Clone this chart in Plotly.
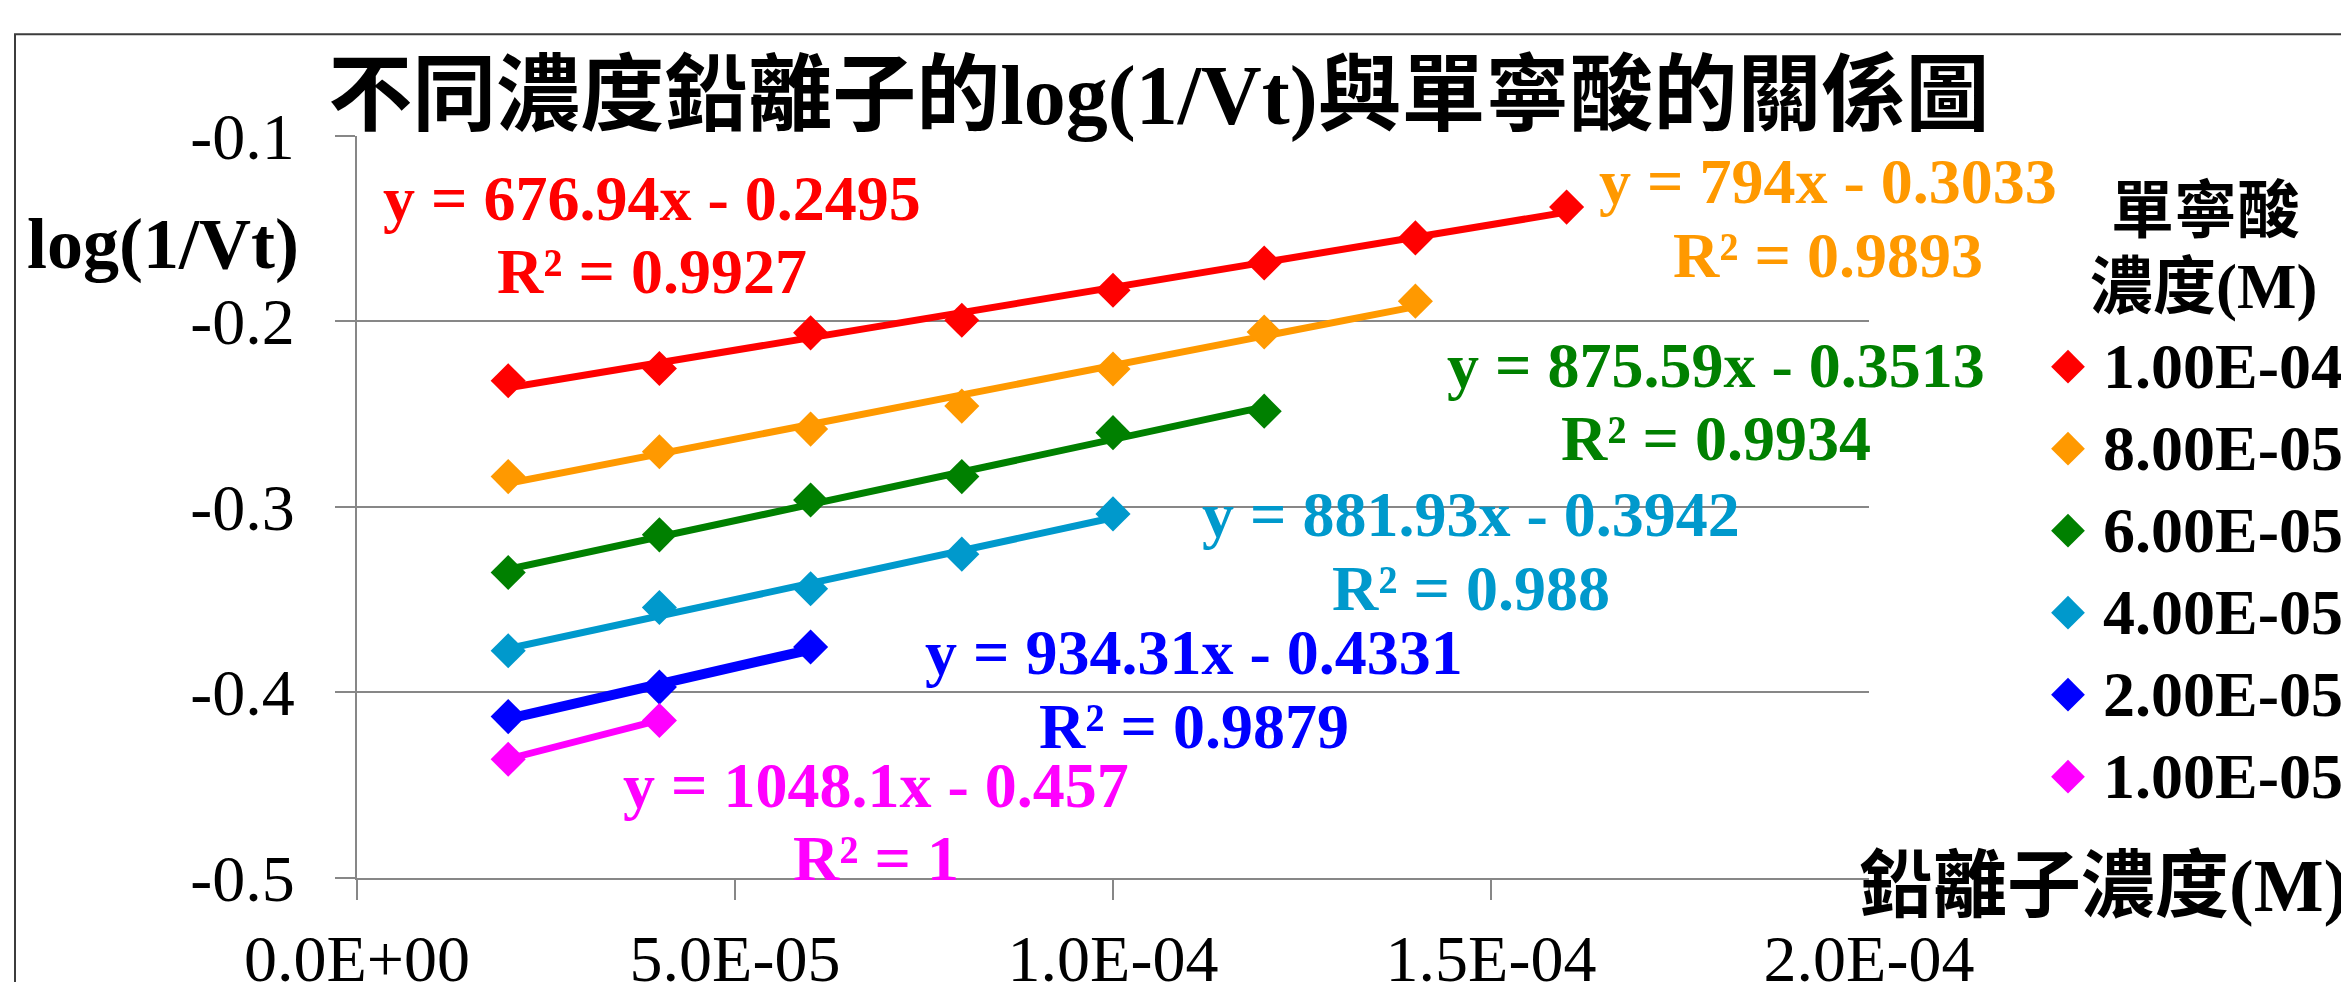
import plotly.graph_objects as go

W, H = 2341, 982

# 鉛離子濃度 (M) — shared x values
pb_conc = [2e-5, 4e-5, 6e-5, 8e-5, 1.0e-4, 1.2e-4, 1.4e-4, 1.6e-4]

# 單寧酸濃度 series (legend names) and colours
tannic_names = ["1.00E-04", "8.00E-05", "6.00E-05", "4.00E-05", "2.00E-05", "1.00E-05"]
tannic_colors = ["#FF0000", "#FF9900", "#008000", "#0099CC", "#0000FF", "#FF00FF"]

# log(1/Vt) measurements for each tannic-acid concentration
log_vt_1e4 = [-0.2321, -0.2255, -0.2063, -0.1995, -0.1833, -0.1686, -0.1551, -0.1385]
log_vt_8e5 = [-0.2838, -0.2704, -0.2582, -0.2458, -0.2258, -0.2058, -0.1892]
log_vt_6e5 = [-0.3355, -0.3152, -0.2964, -0.2838, -0.2601, -0.2485]
log_vt_4e5 = [-0.3777, -0.3544, -0.3443, -0.3256, -0.3039]
log_vt_2e5 = [-0.4132, -0.3973, -0.3757]
log_vt_1e5 = [-0.4362, -0.4153]
series_values = [log_vt_1e4, log_vt_8e5, log_vt_6e5, log_vt_4e5, log_vt_2e5, log_vt_1e5]

# linear trendline fits (y = a x + b) and R²
fit_slopes = [676.94, 794, 875.59, 881.93, 934.31, 1048.1]
fit_intercepts = [-0.2495, -0.3033, -0.3513, -0.3942, -0.4331, -0.457]
fit_r2 = ["0.9927", "0.9893", "0.9934", "0.988", "0.9879", "1"]

# axis ticks
x_tickvals = [0, 5e-5, 1e-4, 1.5e-4, 2e-4]
x_ticktext = ["0.0E+00", "5.0E-05", "1.0E-04", "1.5E-04", "2.0E-04"]
y_tickvals = [-0.5, -0.4, -0.3, -0.2, -0.1]
y_ticktext = ["-0.5", "-0.4", "-0.3", "-0.2", "-0.1"]

# ---- styling / layout helpers ----
FONT = "Liberation Serif, Noto Sans CJK TC"
GRID = "#878787"
line_widths = [7, 7, 7, 7, 10, 7]
# equation label placement: (centre x px, baseline px of line 1, baseline px of line 2)
eq_label_pos = [(652, 220, 293), (1828, 203, 277), (1716, 387, 460),
                (1471, 536, 610), (1194, 674, 748), (876, 807, 880)]


def fx(px):
    return px / W


def fy(py):
    return 1 - py / H


plot_x0, plot_x1 = 357, 1869
plot_y0, plot_y1 = 135.7, 877.6

fig = go.Figure()

for i, vals in enumerate(series_values):
    xs = pb_conc[:len(vals)]
    a, b = fit_slopes[i], fit_intercepts[i]
    fx_ends = [xs[0], xs[-1]]
    fig.add_trace(go.Scatter(
        x=fx_ends, y=[a * v + b for v in fx_ends], mode="lines",
        line=dict(color=tannic_colors[i], width=line_widths[i]),
        hoverinfo="skip", showlegend=False))
    fig.add_trace(go.Scatter(
        x=xs, y=vals, mode="markers", name=tannic_names[i],
        marker=dict(symbol="diamond", size=27, color=tannic_colors[i], line=dict(width=0)),
        showlegend=False))

# legend markers on a small auxiliary axis pair
legend_cx = 2068
fig.add_trace(go.Scatter(
    x=[0] * len(tannic_names), y=list(range(len(tannic_names))), mode="markers",
    marker=dict(symbol="diamond", size=26, color=tannic_colors, line=dict(width=0)),
    xaxis="x2", yaxis="y2", showlegend=False, hoverinfo="skip"))

annotations = []

# trendline equations
for i in range(len(fit_slopes)):
    cx, b1, b2 = eq_label_pos[i]
    eq = f"y = {fit_slopes[i]:g}x - {abs(fit_intercepts[i]):g}"
    r2 = f"R² = {fit_r2[i]}"
    for txt, base in ((eq, b1), (r2, b2)):
        annotations.append(dict(
            text=txt, x=fx(cx), y=fy(base - 0.3375 * 64), xref="paper", yref="paper",
            xanchor="center", yanchor="middle", showarrow=False,
            font=dict(family=FONT, size=64, color=tannic_colors[i], weight="bold")))

# legend labels
for i, name in enumerate(tannic_names):
    annotations.append(dict(
        text=name, x=0, y=i, xref="x2", yref="y2", xanchor="left", yanchor="middle",
        xshift=33, showarrow=False,
        font=dict(family=FONT, size=64, color="black", weight="bold")))

# legend title
annotations.append(dict(text="單寧酸", x=fx(2205), y=fy(211), xref="paper", yref="paper",
                        xanchor="center", yanchor="middle", showarrow=False,
                        font=dict(family=FONT, size=63, color="black", weight="bold")))
annotations.append(dict(text="濃度(M)", x=fx(2203), y=fy(287), xref="paper", yref="paper",
                        xanchor="center", yanchor="middle", showarrow=False,
                        font=dict(family=FONT, size=63, color="black", weight="bold")))

# axis titles
annotations.append(dict(text="log(1/Vt)", x=fx(163), y=fy(268 - 0.3375 * 72),
                        xref="paper", yref="paper", xanchor="center", yanchor="middle",
                        showarrow=False,
                        font=dict(family=FONT, size=72, color="black", weight="bold")))
annotations.append(dict(text="鉛離子濃度(M)", x=fx(1857), y=fy(886),
                        xref="paper", yref="paper", xanchor="left", yanchor="middle",
                        showarrow=False,
                        font=dict(family=FONT, size=74, color="black", weight="bold")))

leg_top, leg_bot = 366.7 - 41, 776.7 + 41

fig.update_layout(
    width=W, height=H,
    margin=dict(l=0, r=0, t=0, b=0, pad=0, autoexpand=False),
    paper_bgcolor="white", plot_bgcolor="white",
    showlegend=False,
    title=dict(text="不同濃度鉛離子的log(1/Vt)與單寧酸的關係圖",
               x=fx(1159), xref="container", xanchor="center",
               y=fy(95), yref="container", yanchor="middle",
               font=dict(family=FONT, size=84, color="black", weight="bold")),
    xaxis=dict(domain=[fx(plot_x0), fx(plot_x1)], range=[0, 2e-4],
               tickmode="array", tickvals=x_tickvals, ticktext=x_ticktext,
               tickfont=dict(family=FONT, size=66, color="black"),
               ticks="outside", ticklen=20, tickwidth=2, tickcolor=GRID,
               ticklabelstandoff=2,
               showline=True, linecolor=GRID, linewidth=2,
               showgrid=False, zeroline=False),
    yaxis=dict(domain=[fy(plot_y1), fy(plot_y0)], range=[-0.5, -0.1],
               tickmode="array", tickvals=y_tickvals, ticktext=y_ticktext,
               tickfont=dict(family=FONT, size=66, color="black"),
               ticks="outside", ticklen=20, tickwidth=2, tickcolor=GRID,
               ticklabelstandoff=27,
               showline=True, linecolor=GRID, linewidth=2,
               showgrid=True, gridcolor=GRID, gridwidth=2, zeroline=False),
    xaxis2=dict(domain=[fx(legend_cx - 30), fx(legend_cx + 30)], range=[-1, 1],
                anchor="y2", visible=False, fixedrange=True),
    yaxis2=dict(domain=[fy(leg_bot), fy(leg_top)], range=[5.5, -0.5],
                anchor="x2", visible=False, fixedrange=True),
    annotations=annotations,
    shapes=[dict(type="rect", xref="paper", yref="paper",
                 x0=fx(15), x1=1.05, y0=-0.05, y1=fy(34.3),
                 line=dict(color="#3c3c3c", width=2), fillcolor="rgba(0,0,0,0)",
                 layer="below")],
)

fig.write_html("out.html")
